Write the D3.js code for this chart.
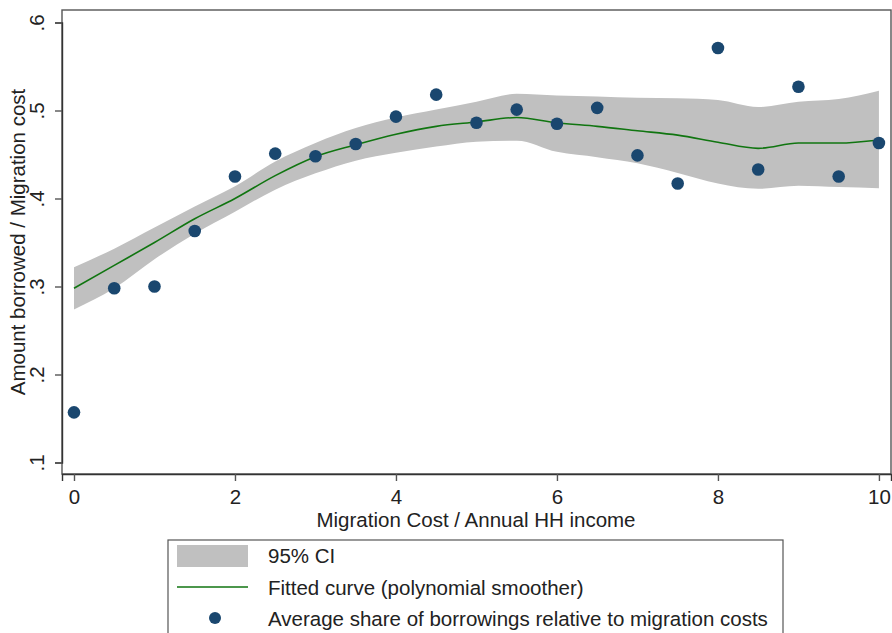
<!DOCTYPE html>
<html><head><meta charset="utf-8">
<script src="https://cdn.jsdelivr.net/npm/d3@7"></script>
<style>body{margin:0;background:#fff}svg{display:block;font-family:"Liberation Sans",Arial,sans-serif}</style>
</head><body><svg id="c" width="892" height="633"></svg>
<script>
const pointX = [0,0.5,1,1.5,2,2.5,3,3.5,4,4.5,5,5.5,6,6.5,7,7.5,8,8.5,9,9.5,10];
const pointY = [0.157,0.298,0.300,0.363,0.425,0.451,0.448,0.462,0.493,0.518,0.486,0.501,0.485,0.503,0.449,0.417,0.571,0.433,0.527,0.425,0.463];
const fitX = [0,0.5,1,1.5,2,2.5,3,3.5,4,4.5,5,5.5,6,6.5,7,7.5,8,8.5,9,9.5,10];
const fitY = [0.298,0.324,0.350,0.377,0.400,0.426,0.4475,0.461,0.473,0.482,0.487,0.492,0.486,0.482,0.477,0.472,0.464,0.457,0.463,0.463,0.4665];
const ciUpper = [0.322,0.343,0.367,0.391,0.414,0.442,0.463,0.480,0.492,0.501,0.510,0.519,0.517,0.516,0.5145,0.514,0.512,0.504,0.510,0.513,0.5225];
const ciLower = [0.274,0.298,0.331,0.360,0.385,0.410,0.4286,0.443,0.452,0.459,0.4646,0.4657,0.453,0.447,0.440,0.429,0.417,0.411,0.4145,0.413,0.4116];
const xTicks = [0,2,4,6,8,10];
const yTicks = [0.1,0.2,0.3,0.4,0.5,0.6];
const yTickLabels = [".1",".2",".3",".4",".5",".6"];
const legendLabels = ["95% CI","Fitted curve (polynomial smoother)","Average share of borrowings relative to migration costs"];
const xTitle = "Migration Cost / Annual HH income";
const yTitle = "Amount borrowed / Migration cost";

const FS = 20.5;
const svg = d3.select("#c");
const L=62, R=891, T=10, B=474;
const x = d3.scaleLinear().domain([-0.149,10.15]).range([L,R]);
const y = d3.scaleLinear().domain([0.1,0.6]).range([462.5,22.5]);

const band = fitX.map((v,i)=>({x:v,lo:ciLower[i],hi:ciUpper[i]}));
svg.append("path").datum(band)
  .attr("d", d3.area().x(d=>x(d.x)).y0(d=>y(d.lo)).y1(d=>y(d.hi)).curve(d3.curveMonotoneX))
  .attr("fill","#c0c0c0");
svg.append("path").datum(fitX.map((v,i)=>[v,fitY[i]]))
  .attr("d", d3.line().x(d=>x(d[0])).y(d=>y(d[1])).curve(d3.curveMonotoneX))
  .attr("fill","none").attr("stroke","#107510").attr("stroke-width",1.6);
svg.append("g").selectAll("circle").data(pointX.map((v,i)=>[v,pointY[i]])).join("circle")
  .attr("cx",d=>x(d[0])).attr("cy",d=>y(d[1])).attr("r",6.3).attr("fill","#1a476f");

// frame
svg.append("rect").attr("x",L).attr("y",T).attr("width",R-L).attr("height",B-T)
  .attr("fill","none").attr("stroke","#555").attr("stroke-width",1.4);

// axes
const xa = svg.append("g").attr("transform",`translate(0,${B})`)
  .call(d3.axisBottom(x).tickValues(xTicks).tickSize(7).tickPadding(8).tickFormat(d3.format("d")));
xa.select(".domain").attr("stroke","#333").attr("stroke-width",1.4);
xa.selectAll(".tick line").attr("stroke","#555").attr("stroke-width",1.4);
xa.selectAll(".tick text").attr("font-size",FS).attr("fill","#222").attr("font-family","Liberation Sans, Arial, sans-serif");

const ya = svg.append("g").attr("transform",`translate(${L},0)`)
  .call(d3.axisLeft(y).tickValues(yTicks).tickSize(7).tickFormat((d,i)=>yTickLabels[i]));
ya.select(".domain").attr("stroke","#333").attr("stroke-width",1.4);
ya.selectAll(".tick line").attr("stroke","#555").attr("stroke-width",1.4);
ya.selectAll(".tick text").attr("font-size",FS).attr("fill","#222")
  .attr("font-family","Liberation Sans, Arial, sans-serif")
  .attr("text-anchor","middle").attr("dy",0).attr("x",0)
  .attr("transform","translate(-18,0) rotate(-90)");

svg.append("text").attr("x",476).attr("y",527).attr("text-anchor","middle")
  .attr("font-size",FS).attr("fill","#222").text(xTitle);
svg.append("text").attr("transform","translate(24.5,242) rotate(-90)").attr("text-anchor","middle")
  .attr("font-size",FS).attr("fill","#222").text(yTitle);

// legend
const lg = svg.append("g");
lg.append("rect").attr("x",168).attr("y",540).attr("width",615).attr("height",110)
  .attr("fill","#fff").attr("stroke","#555").attr("stroke-width",1.2);
lg.append("rect").attr("x",177).attr("y",545).attr("width",71).attr("height",22).attr("fill","#c0c0c0");
lg.append("line").attr("x1",177).attr("x2",248).attr("y1",587).attr("y2",587).attr("stroke","#107510").attr("stroke-width",1.6);
lg.append("circle").attr("cx",215).attr("cy",618).attr("r",6).attr("fill","#1a476f");
const ly=[556,588,619];
lg.selectAll("text.l").data(legendLabels).join("text").attr("class","l")
  .attr("x",268).attr("y",(d,i)=>ly[i]).attr("dy","0.35em")
  .attr("font-size",FS).attr("fill","#222").text(d=>d);
</script></body></html>
